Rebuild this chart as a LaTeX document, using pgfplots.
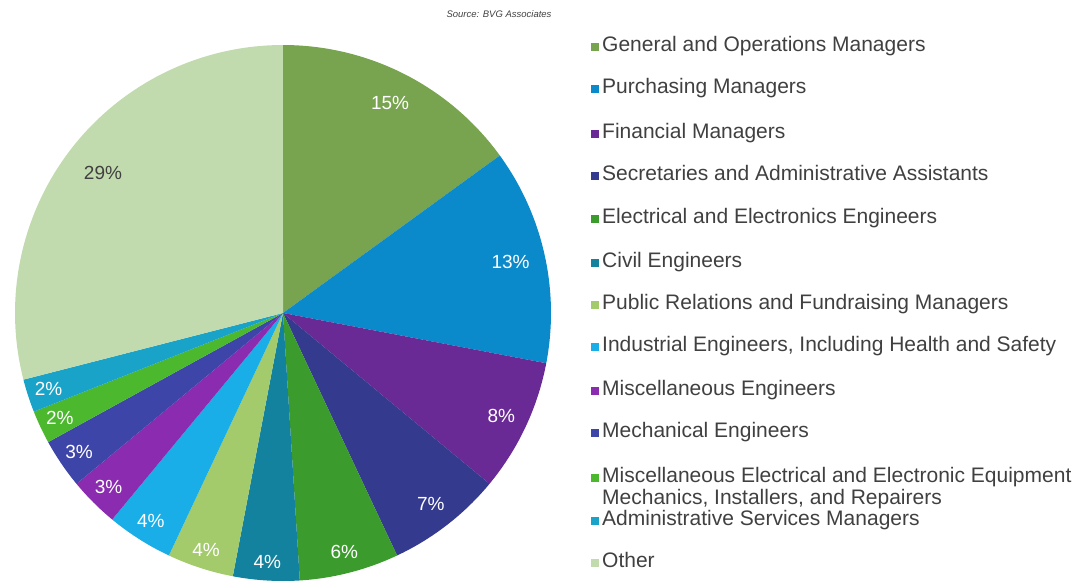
\documentclass[border=0pt]{standalone}
\usepackage{pgfplots}
\pgfplotsset{compat=1.18}
\usepackage{fontspec}
\setmainfont{Liberation Sans}

\definecolor{cA}{HTML}{78A44F}
\definecolor{cB}{HTML}{0A8ACB}
\definecolor{cC}{HTML}{6A2A96}
\definecolor{cD}{HTML}{343A8E}
\definecolor{cE}{HTML}{3B9B2C}
\definecolor{cF}{HTML}{13829E}
\definecolor{cG}{HTML}{A3CB6B}
\definecolor{cH}{HTML}{1AAEE8}
\definecolor{cI}{HTML}{8A2BB0}
\definecolor{cJ}{HTML}{3E45A8}
\definecolor{cK}{HTML}{4CB82E}
\definecolor{cL}{HTML}{1AA3C8}
\definecolor{cM}{HTML}{C2DBAE}
\definecolor{txt}{HTML}{404040}

% start %, end %, colour, label, label radius, label colour
\newcommand{\slice}[6]{%
  \addplot[draw=none, fill=#3, domain={#1*3.6}:{#2*3.6}, samples=90, variable=\t]
    ({sin(\t)},{cos(\t)}) -- (axis cs:0,0) -- cycle;
  \node[text=#6, font=\fontsize{19bp}{22bp}\selectfont]
    at (axis cs:{#5*sin((#1+#2)*1.8)},{#5*cos((#1+#2)*1.8)}) {#4};
}

\begin{document}
\begin{tikzpicture}
\useasboundingbox (0,0) rectangle (1082bp,-582bp);
\begin{axis}[at={(283bp,-313bp)}, anchor=origin, x=268bp, y=268bp,
  xmin=-1, xmax=1, ymin=-1, ymax=1, hide axis, clip=false]
  \slice{0}{15}{cA}{15\%}{0.88}{white}
  \slice{15}{28}{cB}{13\%}{0.87}{white}
  \slice{28}{36}{cC}{8\%}{0.90}{white}
  \slice{36}{43}{cD}{7\%}{0.90}{white}
  \slice{43}{49}{cE}{6\%}{0.92}{white}
  \slice{49}{53}{cF}{4\%}{0.93}{white}
  \slice{53}{57}{cG}{4\%}{0.93}{white}
  \slice{57}{61}{cH}{4\%}{0.92}{white}
  \slice{61}{64}{cI}{3\%}{0.92}{white}
  \slice{64}{67}{cJ}{3\%}{0.92}{white}
  \slice{67}{69}{cK}{2\%}{0.92}{white}
  \slice{69}{71}{cL}{2\%}{0.92}{white}
  \slice{71}{100}{cM}{29\%}{0.85}{txt}
\end{axis}
\node[anchor=east, text=txt, font=\fontsize{9.5bp}{11bp}\selectfont\itshape] at (555bp,-14bp) {Source: BVG Associates};
\foreach \yy/\cc/\tt in {47/cA/General and Operations Managers,
  89/cB/Purchasing Managers,
  134/cC/Financial Managers,
  176/cD/Secretaries and Administrative Assistants,
  219/cE/Electrical and Electronics Engineers,
  263/cF/Civil Engineers,
  305/cG/Public Relations and Fundraising Managers,
  347/cH/{Industrial Engineers, Including Health and Safety},
  391/cI/Miscellaneous Engineers,
  433/cJ/Mechanical Engineers,
  478/cK/Miscellaneous Electrical and Electronic Equipment,
  521/cL/Administrative Services Managers,
  563/cM/Other}{
  \fill[\cc] (591bp,-\yy bp-4bp) rectangle ++(8bp,8bp);
  \node[anchor=west, inner sep=0pt, text=txt, font=\fontsize{21bp}{24bp}\selectfont] at (602bp,-\yy bp) {\strut\tt};
}
\node[anchor=west, inner sep=0pt, text=txt, font=\fontsize{21bp}{24bp}\selectfont] at (602bp,-500bp) {\strut Mechanics, Installers, and Repairers};
\end{tikzpicture}
\end{document}
